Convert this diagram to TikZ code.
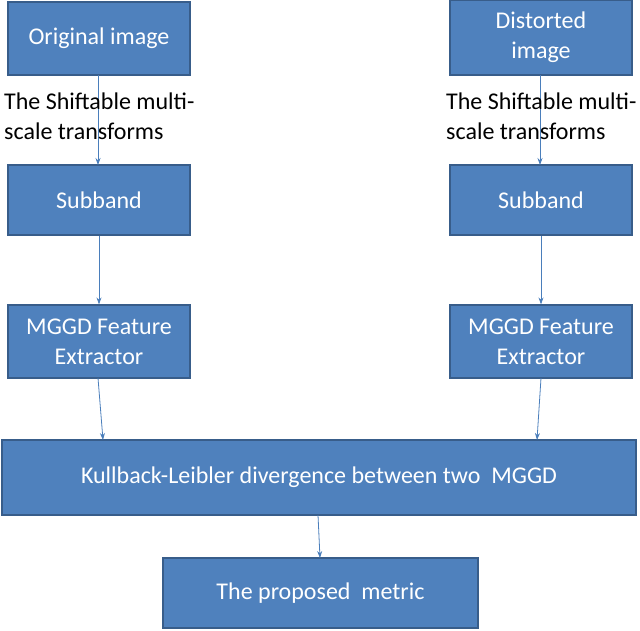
\documentclass[tikz,border=0pt]{standalone}
\usepackage{fontspec}
\setmainfont{Carlito}
\usetikzlibrary{arrows.meta}
\definecolor{boxfill}{HTML}{4F81BD}
\definecolor{boxline}{HTML}{385D8A}
\definecolor{arr}{HTML}{4A7EBB}
\tikzset{
  bx/.style={draw=boxline, line width=1.2pt, fill=boxfill, text=white, font=\fontsize{24}{30}\selectfont, align=center, inner sep=0pt},
  ar/.style={draw=arr, line width=0.8pt, -{Stealth[length=7pt,width=5pt]}},
  lbl/.style={font=\fontsize{24}{30}\selectfont, align=left, anchor=north west, inner sep=0pt}
}
\begin{document}
\begin{tikzpicture}[x=1pt,y=-1pt]
\useasboundingbox (0,0) rectangle (640,630);
\node[bx, minimum width=182, minimum height=73] (oi) at (99,38.5) {Original image};
\node[bx, minimum width=182, minimum height=75] (di) at (541,37.5) {Distorted\\image};
\node[bx, minimum width=182, minimum height=70] (sl) at (99,200) {Subband};
\node[bx, minimum width=182, minimum height=70] (sr) at (541,200) {Subband};
\node[bx, minimum width=182, minimum height=73] (ml) at (99,341.5) {MGGD Feature\\Extractor};
\node[bx, minimum width=182, minimum height=73] (mr) at (541,341.5) {MGGD Feature\\Extractor};
\node[bx, minimum width=634, minimum height=75] (kl) at (319,477.5) {Kullback-Leibler divergence between two\ \ MGGD};
\node[bx, minimum width=315, minimum height=70] (pm) at (320.5,593) {The proposed\ \ metric};
\coordinate (a1) at (98,75); \coordinate (a2) at (98,165);
\draw[ar] (a1) -- (a2);
\coordinate (b1) at (540,75); \coordinate (b2) at (540,165);
\draw[ar] (b1) -- (b2);
\node[lbl] (tl) at (4,93) {The Shiftable multi-\\scale transforms};
\node[lbl] (tr) at (446,93) {The Shiftable multi-\\scale transforms};
\draw[ar] (sl.south) -- (ml.north);
\draw[ar] (sr.south) -- (mr.north);
\coordinate (c1) at (98,378); \coordinate (c2) at (103,440);
\draw[ar] (c1) -- (c2);
\coordinate (d1) at (541,378); \coordinate (d2) at (537,440);
\draw[ar] (d1) -- (d2);
\coordinate (e1) at (318,515); \coordinate (e2) at (320,558);
\draw[ar] (e1) -- (e2);
\end{tikzpicture}
\end{document}
